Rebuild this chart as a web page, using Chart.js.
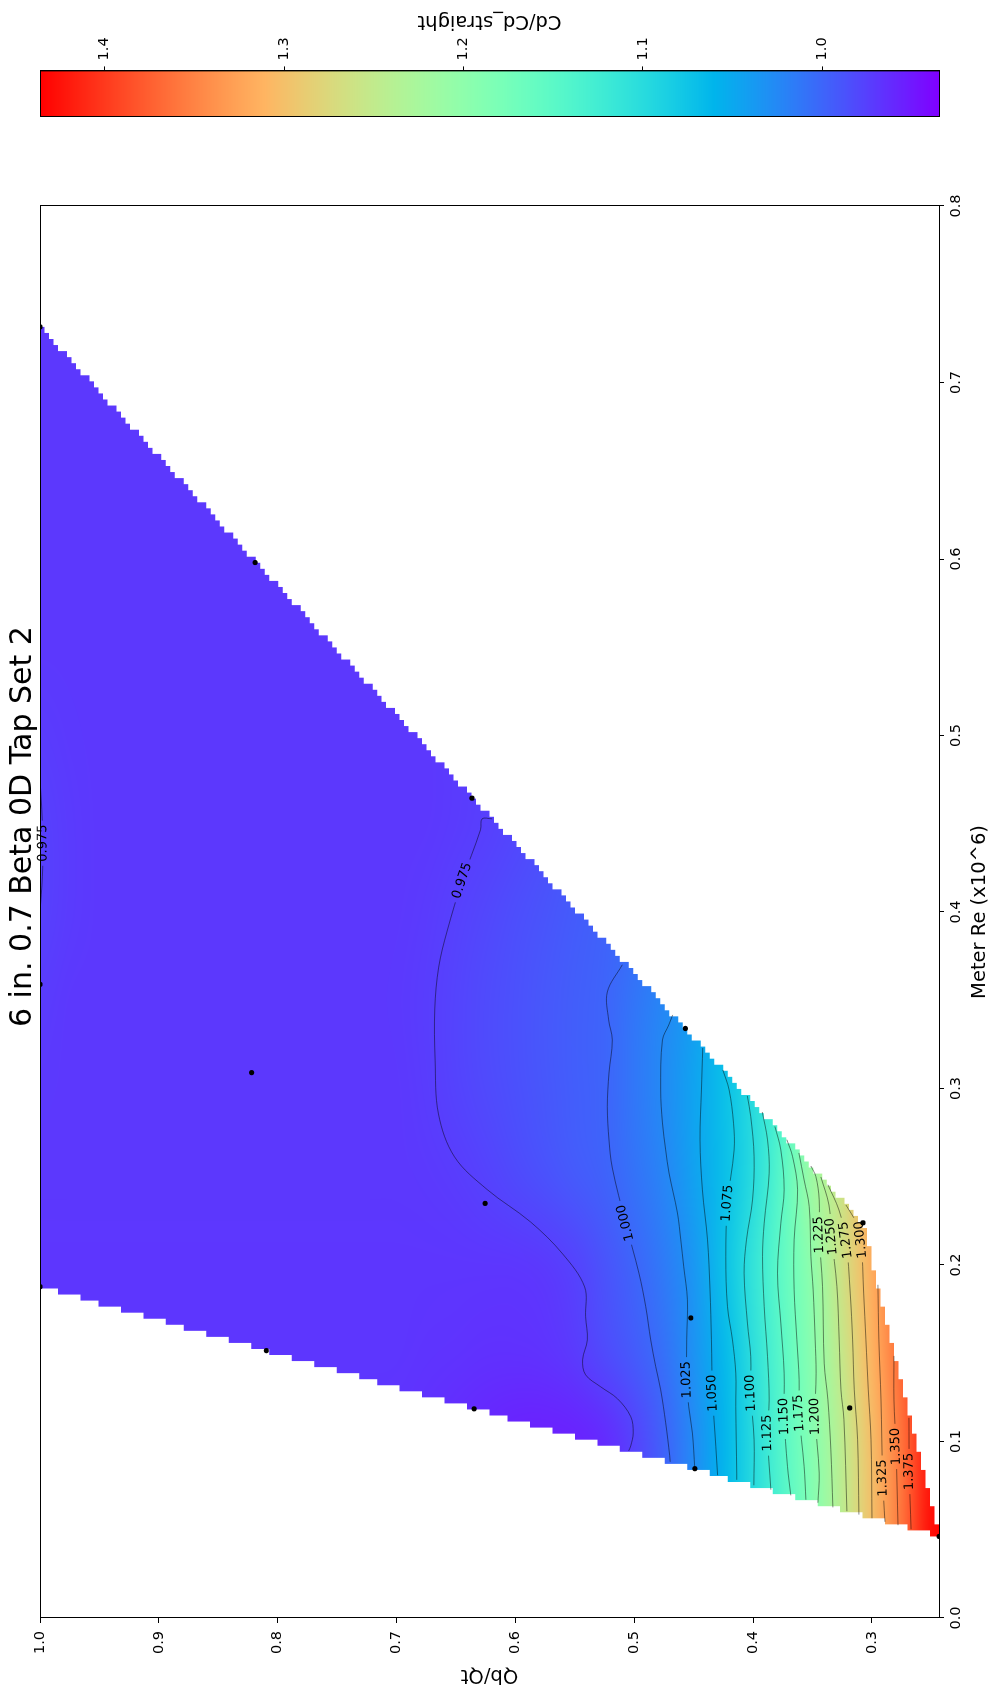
<!DOCTYPE html>
<html>
<head>
<meta charset="utf-8">
<script src="https://cdn.jsdelivr.net/npm/chart.js@4.4.1/dist/chart.umd.min.js"></script>
<style>
  html, body { margin: 0; padding: 0; background: #fff; }
  body { width: 996px; height: 1695px; overflow: hidden; position: relative; }
  /* the figure is laid out landscape and turned a quarter turn, as in the picture */
  #turn { position: absolute; left: 0; top: 0; width: 1695px; height: 996px;
          transform-origin: 0 0; transform: translateY(1695px) rotate(-90deg); }
  #plot { position: absolute; left: 0; top: 0; }
  #cbar { position: absolute; left: 1540px; top: 0; }
</style>
</head>
<body>
<div id="turn">
  <canvas id="plot" width="1695" height="996"></canvas>
  <canvas id="cbar" width="155" height="996"></canvas>
</div>
<script>
// measured points (Meter Re x10^6, Qb/Qt)
const pointRe = [0.7315, 0.598, 0.4645, 0.334, 0.2239, 0.359, 0.309, 0.2349, 0.170, 0.119, 0.1877, 0.1515, 0.1185, 0.0846, 0.0462];
const pointQb = [1.0, 0.819, 0.6365, 0.457, 0.3075, 1.0, 0.822, 0.6255, 0.4524, 0.3187, 1.0, 0.8096, 0.6347, 0.449, 0.2435];

// Cd/Cd_straight surface: one row per Re, one column per Qb/Qt
const gridRe = [0.05, 0.10, 0.15, 0.20, 0.25, 0.30, 0.35, 0.40, 0.45, 0.50, 0.55, 0.60, 0.65, 0.70, 0.75];
const gridQb = [0.25, 0.275, 0.30, 0.325, 0.35, 0.375, 0.40, 0.425, 0.45, 0.475, 0.50, 0.525, 0.55, 0.575, 0.60, 0.625,
                0.65, 0.675, 0.70, 0.725, 0.75, 0.775, 0.80, 0.825, 0.85, 0.875, 0.90, 0.925, 0.95, 0.975, 1.0];
const cdRe005 = [1.43, 1.36, 1.30, 1.245, 1.19, 1.14, 1.10, 1.062, 1.03, 1.0, 0.98, 0.965, 0.96, 0.96, 0.96, 0.962,
                 0.964, 0.966, 0.968, 0.969, 0.969, 0.969, 0.969, 0.969, 0.969, 0.969, 0.969, 0.969, 0.969, 0.969, 0.969];
const cdRe010 = [1.425, 1.361, 1.302, 1.246, 1.192, 1.146, 1.098, 1.059, 1.026, 0.997, 0.976, 0.961, 0.956, 0.955, 0.956, 0.959,
                 0.962, 0.965, 0.967, 0.968, 0.969, 0.969, 0.969, 0.969, 0.969, 0.969, 0.969, 0.969, 0.969, 0.969, 0.969];
const cdRe015 = [1.43, 1.37, 1.311, 1.2545, 1.196, 1.150, 1.104, 1.063, 1.032, 1.0075, 0.993, 0.9825, 0.972, 0.967, 0.966, 0.966,
                 0.967, 0.968, 0.969, 0.969, 0.969, 0.969, 0.969, 0.969, 0.969, 0.969, 0.969, 0.969, 0.969, 0.969, 0.969];
const cdRe020 = [1.42, 1.37, 1.317, 1.264, 1.201, 1.157, 1.1115, 1.071, 1.035, 1.0145, 0.999, 0.988, 0.977, 0.971, 0.969, 0.969,
                 0.969, 0.969, 0.969, 0.969, 0.969, 0.969, 0.969, 0.969, 0.969, 0.969, 0.969, 0.969, 0.969, 0.969, 0.969];
const cdRe025 = [1.41, 1.37, 1.32, 1.26, 1.218, 1.1495, 1.0995, 1.0685, 1.0436, 1.0223, 1.0089, 0.9982, 0.9929, 0.9875, 0.9822, 0.9768,
                 0.973, 0.971, 0.970, 0.970, 0.970, 0.970, 0.970, 0.970, 0.970, 0.970, 0.970, 0.970, 0.970, 0.970, 0.970];
const cdRe030 = [1.39, 1.34, 1.29, 1.24, 1.19, 1.14, 1.10, 1.0697, 1.0452, 1.027, 1.0124, 0.9994, 0.995, 0.9906, 0.9862, 0.9818,
                 0.9774, 0.973, 0.970, 0.970, 0.970, 0.970, 0.970, 0.970, 0.970, 0.970, 0.970, 0.970, 0.970, 0.970, 0.971];
const cdRe035 = [1.37, 1.32, 1.27, 1.22, 1.17, 1.13, 1.095, 1.065, 1.04, 1.024, 1.011, 0.9995, 0.9952, 0.9909, 0.9866, 0.9823,
                 0.978, 0.9737, 0.971, 0.970, 0.970, 0.970, 0.970, 0.970, 0.970, 0.970, 0.970, 0.970, 0.970, 0.970, 0.973];
const cdRe040 = [1.35, 1.30, 1.25, 1.20, 1.15, 1.11, 1.08, 1.05, 1.03, 1.012, 1.003, 0.997, 0.993, 0.9887, 0.9844, 0.9801,
                 0.9758, 0.972, 0.970, 0.970, 0.970, 0.970, 0.970, 0.970, 0.970, 0.970, 0.970, 0.970, 0.970, 0.972, 0.976];
const cdRe045 = [0.999, 0.999, 0.999, 0.999, 0.999, 0.999, 0.999, 0.999, 0.999, 0.999, 0.999, 0.994, 0.989, 0.984, 0.979, 0.9745,
                 0.972, 0.970, 0.970, 0.970, 0.970, 0.970, 0.970, 0.970, 0.970, 0.970, 0.970, 0.970, 0.970, 0.972, 0.976];
const cdRe050 = [0.98, 0.98, 0.98, 0.98, 0.98, 0.98, 0.98, 0.98, 0.98, 0.98, 0.98, 0.98, 0.98, 0.98, 0.978, 0.975,
                 0.972, 0.970, 0.970, 0.970, 0.970, 0.970, 0.970, 0.970, 0.970, 0.970, 0.970, 0.970, 0.970, 0.971, 0.973];
const cdRe055 = [0.970, 0.970, 0.970, 0.970, 0.970, 0.970, 0.970, 0.970, 0.970, 0.970, 0.970, 0.970, 0.970, 0.970, 0.970, 0.970,
                 0.970, 0.970, 0.970, 0.970, 0.970, 0.970, 0.970, 0.970, 0.970, 0.970, 0.970, 0.970, 0.970, 0.970, 0.970];
const cdRe060 = [0.970, 0.970, 0.970, 0.970, 0.970, 0.970, 0.970, 0.970, 0.970, 0.970, 0.970, 0.970, 0.970, 0.970, 0.970, 0.970,
                 0.970, 0.970, 0.970, 0.970, 0.970, 0.970, 0.970, 0.970, 0.970, 0.970, 0.970, 0.970, 0.970, 0.970, 0.970];
const cdRe065 = [0.970, 0.970, 0.970, 0.970, 0.970, 0.970, 0.970, 0.970, 0.970, 0.970, 0.970, 0.970, 0.970, 0.970, 0.970, 0.970,
                 0.970, 0.970, 0.970, 0.970, 0.970, 0.970, 0.970, 0.970, 0.970, 0.970, 0.970, 0.970, 0.970, 0.970, 0.970];
const cdRe070 = [0.970, 0.970, 0.970, 0.970, 0.970, 0.970, 0.970, 0.970, 0.970, 0.970, 0.970, 0.970, 0.970, 0.970, 0.970, 0.970,
                 0.970, 0.970, 0.970, 0.970, 0.970, 0.970, 0.970, 0.970, 0.970, 0.970, 0.970, 0.970, 0.970, 0.970, 0.970];
const cdRe075 = [0.970, 0.970, 0.970, 0.970, 0.970, 0.970, 0.970, 0.970, 0.970, 0.970, 0.970, 0.970, 0.970, 0.970, 0.970, 0.970,
                 0.970, 0.970, 0.970, 0.970, 0.970, 0.970, 0.970, 0.970, 0.970, 0.970, 0.970, 0.970, 0.970, 0.970, 0.970];

// contour lines, [Re, Qb/Qt] vertices
const c0975a = [[0.4528, 0.6195], [0.4528, 0.628], [0.4466, 0.6293], [0.4177, 0.6447], [0.3892, 0.6574], [0.3688, 0.6645],
                [0.3451, 0.6678], [0.3161, 0.6675], [0.2856, 0.6647], [0.2613, 0.6512], [0.2428, 0.6238], [0.2244, 0.5872],
                [0.2063, 0.5602], [0.1876, 0.5417], [0.1708, 0.5409], [0.1576, 0.5394], [0.1463, 0.5434], [0.1378, 0.5409],
                [0.131, 0.5282], [0.1242, 0.514], [0.1141, 0.5029], [0.1049, 0.5008], [0.0975, 0.5029], [0.0947, 0.5046]];
const c0975b = [[0.475, 1.0], [0.458, 0.9985], [0.439, 0.9975], [0.42, 0.998], [0.40, 1.0]];
const c1000 = [[0.3701, 0.51], [0.3547, 0.5226], [0.3389, 0.5215], [0.3275, 0.5184], [0.3088, 0.5212], [0.2897, 0.5226],
               [0.2709, 0.5212], [0.255, 0.5184], [0.2239, 0.5072], [0.1954, 0.496], [0.1765, 0.4903], [0.1576, 0.4861],
               [0.1425, 0.4819], [0.1293, 0.4777], [0.1106, 0.4735], [0.0919, 0.4701], [0.0885, 0.4697]];
const c1025 = [[0.3417, 0.4676], [0.336, 0.4709], [0.3275, 0.4762], [0.2992, 0.4777], [0.2805, 0.4762], [0.2652, 0.4735],
               [0.2522, 0.4707], [0.2295, 0.4636], [0.2143, 0.4608], [0.199, 0.4583], [0.1803, 0.4552], [0.1577, 0.4558],
               [0.135, 0.4558], [0.1197, 0.4541], [0.1048, 0.451], [0.0846, 0.449]];
const c1050 = [[0.323, 0.4423], [0.2992, 0.4434], [0.2709, 0.4446], [0.2426, 0.4426], [0.2143, 0.4383], [0.186, 0.4362],
               [0.1577, 0.435], [0.1274, 0.4341], [0.0972, 0.4313], [0.0809, 0.4298]];
const c1075 = [[0.3105, 0.4254], [0.2992, 0.4201], [0.2803, 0.4164], [0.2652, 0.4159], [0.235, 0.4215], [0.2048, 0.4229],
               [0.1765, 0.4215], [0.1576, 0.4173], [0.1387, 0.4145], [0.1198, 0.4145], [0.0821, 0.4137], [0.0783, 0.4137]];
const c1100 = [[0.2958, 0.4048], [0.2841, 0.4019], [0.2614, 0.3991], [0.2369, 0.4004], [0.2143, 0.4055], [0.1954, 0.4075],
               [0.1671, 0.4047], [0.1481, 0.4019], [0.1274, 0.4019], [0.101, 0.3991], [0.0752, 0.3993]];
const c1125 = [[0.2867, 0.3922], [0.2709, 0.3878], [0.252, 0.3864], [0.2237, 0.3906], [0.2048, 0.392], [0.1765, 0.3906],
               [0.1481, 0.3878], [0.1236, 0.3864], [0.1048, 0.3878], [0.0727, 0.385]];
const c1150 = [[0.2785, 0.3816], [0.2652, 0.3766], [0.2426, 0.3738], [0.2237, 0.3766], [0.1954, 0.3794], [0.1671, 0.3766],
               [0.1387, 0.3738], [0.1142, 0.3738], [0.0859, 0.371], [0.0695, 0.3682]];
const c1175 = [[0.271, 0.3715], [0.2614, 0.3667], [0.2426, 0.3625], [0.2143, 0.3654], [0.186, 0.3654], [0.1576, 0.3631],
               [0.135, 0.3612], [0.1161, 0.3612], [0.0859, 0.357], [0.067, 0.3555]];
const c1200 = [[0.2635, 0.3614], [0.2482, 0.357], [0.2331, 0.3527], [0.2048, 0.3513], [0.186, 0.3494], [0.1576, 0.3477],
               [0.1387, 0.3469], [0.1142, 0.3477], [0.0821, 0.3443], [0.0653, 0.3454]];
const c1225 = [[0.2561, 0.3513], [0.2501, 0.3471], [0.2369, 0.3443], [0.2171, 0.3443], [0.1878, 0.3415], [0.1444, 0.3401],
               [0.1237, 0.337], [0.0953, 0.3345], [0.0627, 0.3328]];
const c1250 = [[0.2499, 0.3429], [0.234, 0.3361], [0.2161, 0.3339], [0.1878, 0.3294], [0.1576, 0.3275], [0.1293, 0.326],
               [0.1124, 0.3235], [0.0605, 0.321]];
const c1275 = [[0.2455, 0.337], [0.2312, 0.3277], [0.2142, 0.3218], [0.1841, 0.3182], [0.1576, 0.3162], [0.1293, 0.3148],
               [0.101, 0.312], [0.0586, 0.3109]];
const c1300 = [[0.234, 0.3218], [0.2243, 0.3134], [0.2143, 0.3092], [0.1841, 0.3069], [0.1576, 0.305], [0.1293, 0.303],
               [0.101, 0.3007], [0.0565, 0.2999]];
const c1325 = [[0.1888, 0.2949], [0.1576, 0.2941], [0.1236, 0.2923], [0.0793, 0.2909], [0.0545, 0.289]];
const c1350 = [[0.1485, 0.2814], [0.1236, 0.2814], [0.0972, 0.2797], [0.0526, 0.278]];
const c1375 = [[0.1134, 0.2688], [0.083, 0.2685], [0.0503, 0.267]];

const contourLevels = [0.975, 0.975, 1.000, 1.025, 1.050, 1.075, 1.100, 1.125, 1.150, 1.175, 1.200, 1.225, 1.250, 1.275, 1.300, 1.325, 1.350, 1.375];
const contourLines = [c0975a, c0975b, c1000, c1025, c1050, c1075, c1100, c1125, c1150, c1175, c1200, c1225, c1250, c1275, c1300, c1325, c1350, c1375];
// vertex of each line that carries its inline label
const labelAt = [3, 2, 8, 12, 7, 4, 8, 8, 7, 7, 7, 3, 2, 2, 2, 3, 2, 1];

const reTicks = [0.0, 0.1, 0.2, 0.3, 0.4, 0.5, 0.6, 0.7, 0.8];
const qbTicks = [0.3, 0.4, 0.5, 0.6, 0.7, 0.8, 0.9, 1.0];
const cbarTicks = [1.0, 1.1, 1.2, 1.3, 1.4];
const cbarMin = 0.935;
const cbarMax = 1.436;
const chartTitle = '6 in. 0.7 Beta 0D Tap Set 2';

const cdGrid = [cdRe005, cdRe010, cdRe015, cdRe020, cdRe025, cdRe030, cdRe035, cdRe040, cdRe045, cdRe050,
                cdRe055, cdRe060, cdRe065, cdRe070, cdRe075];

Chart.defaults.font.family = "'DejaVu Sans', sans-serif";
Chart.defaults.color = '#000';

// matplotlib "rainbow"
function rainbow(t) {
  t = Math.min(1, Math.max(0, t));
  const r = Math.min(1, Math.abs(2 * t - 0.5));
  const g = Math.sin(Math.PI * t);
  const b = Math.cos(Math.PI * t / 2);
  return [Math.round(r * 255), Math.round(g * 255), Math.round(b * 255)];
}

function convexHull(pts) {
  const p = pts.slice().sort((a, b) => a[0] - b[0] || a[1] - b[1]);
  const cross = (o, a, b) => (a[0] - o[0]) * (b[1] - o[1]) - (a[1] - o[1]) * (b[0] - o[0]);
  const lower = [], upper = [];
  for (const q of p) {
    while (lower.length >= 2 && cross(lower[lower.length - 2], lower[lower.length - 1], q) <= 0) lower.pop();
    lower.push(q);
  }
  for (let i = p.length - 1; i >= 0; i--) {
    const q = p[i];
    while (upper.length >= 2 && cross(upper[upper.length - 2], upper[upper.length - 1], q) <= 0) upper.pop();
    upper.push(q);
  }
  upper.pop(); lower.pop();
  return lower.concat(upper);
}

function insideHull(h, x, y) {
  for (let i = 0; i < h.length; i++) {
    const a = h[i], b = h[(i + 1) % h.length];
    if ((b[0] - a[0]) * (y - a[1]) - (b[1] - a[1]) * (x - a[0]) < -1e-12) return false;
  }
  return true;
}

// the interpolated surface only exists inside the hull of the points, drawn on a 200x200 mesh
function meshPath(xs, ys) {
  const hull = convexHull(pointRe.map((r, i) => [r, pointQb[i]]));
  const reLo = Math.min(...pointRe), reHi = Math.max(...pointRe);
  const qLo = Math.min(...pointQb), qHi = Math.max(...pointQb);
  const n = 200, dr = (reHi - reLo) / n, dq = (qHi - qLo) / n;
  const path = new Path2D();
  for (let i = 0; i < n; i++) {
    const rc = reLo + (i + 0.5) * dr;
    let jlo = -1, jhi = -1;
    for (let j = 0; j < n; j++) {
      if (insideHull(hull, rc, qLo + (j + 0.5) * dq)) { if (jlo < 0) jlo = j; jhi = j; }
    }
    if (jlo < 0) continue;
    const x0 = xs.getPixelForValue(reLo + i * dr), x1 = xs.getPixelForValue(reLo + (i + 1) * dr);
    const yT = ys.getPixelForValue(qLo + (jhi + 1) * dq), yB = ys.getPixelForValue(qLo + jlo * dq);
    path.rect(x0, yT, x1 - x0, yB - yT);
  }
  return path;
}

function surfaceImage() {
  const cv = document.createElement('canvas');
  cv.width = gridRe.length;
  cv.height = gridQb.length;
  const c = cv.getContext('2d');
  const im = c.createImageData(cv.width, cv.height);
  for (let i = 0; i < gridRe.length; i++) {
    for (let j = 0; j < gridQb.length; j++) {
      const col = rainbow((cdGrid[i][j] - cbarMin) / (cbarMax - cbarMin));
      const k = ((gridQb.length - 1 - j) * cv.width + i) * 4;
      im.data[k] = col[0]; im.data[k + 1] = col[1]; im.data[k + 2] = col[2]; im.data[k + 3] = 255;
    }
  }
  c.putImageData(im, 0, 0);
  return cv;
}

const LABEL_FONT = '13px "DejaVu Sans"';

function labelBoxes(chart) {
  const xs = chart.scales.x, ys = chart.scales.y, ctx = chart.ctx;
  ctx.save();
  ctx.font = LABEL_FONT;
  const out = contourLines.map((line, k) => {
    const i = labelAt[k];
    const a = line[Math.max(0, i - 1)], b = line[Math.min(line.length - 1, i + 1)];
    let ang = Math.atan2(ys.getPixelForValue(b[1]) - ys.getPixelForValue(a[1]),
                         xs.getPixelForValue(b[0]) - xs.getPixelForValue(a[0]));
    if (ang > Math.PI / 2) ang -= Math.PI;
    if (ang <= -Math.PI / 2) ang += Math.PI;
    const text = contourLevels[k].toFixed(3);
    return { x: xs.getPixelForValue(line[i][0]), y: ys.getPixelForValue(line[i][1]), ang, text,
             w: ctx.measureText(text).width };
  });
  ctx.restore();
  return out;
}

const surfacePlugin = {
  id: 'surface',
  beforeDatasetsDraw(chart) {
    const { ctx, scales: { x: xs, y: ys } } = chart;
    const dr = gridRe[1] - gridRe[0], dq = gridQb[1] - gridQb[0];
    const x0 = xs.getPixelForValue(gridRe[0] - dr / 2);
    const x1 = xs.getPixelForValue(gridRe[gridRe.length - 1] + dr / 2);
    const y0 = ys.getPixelForValue(gridQb[gridQb.length - 1] + dq / 2);
    const y1 = ys.getPixelForValue(gridQb[0] - dq / 2);
    ctx.save();
    ctx.clip(meshPath(xs, ys));
    ctx.imageSmoothingEnabled = true;
    ctx.imageSmoothingQuality = 'high';
    ctx.drawImage(surfaceImage(), x0, y0, x1 - x0, y1 - y0);
    ctx.restore();
    chart.$labels = labelBoxes(chart);
  },
  beforeDatasetDraw(chart, args) {
    if (!chart.data.datasets[args.index].isContour) return;
    const ctx = chart.ctx;
    ctx.save();
    const p = new Path2D();
    p.rect(0, 0, chart.width, chart.height);
    for (const L of chart.$labels) {
      const hw = L.w / 2 + 4, hh = 7;
      const c = Math.cos(L.ang), s = Math.sin(L.ang);
      const pts = [[-hw, -hh], [hw, -hh], [hw, hh], [-hw, hh]].map(([u, v]) => [L.x + u * c - v * s, L.y + u * s + v * c]);
      p.moveTo(pts[0][0], pts[0][1]);
      for (let q = 1; q < 4; q++) p.lineTo(pts[q][0], pts[q][1]);
      p.closePath();
    }
    ctx.clip(p, 'evenodd');
  },
  afterDatasetDraw(chart, args) {
    if (!chart.data.datasets[args.index].isContour) return;
    chart.ctx.restore();
  },
  afterDatasetsDraw(chart) {
    const ctx = chart.ctx;
    ctx.save();
    ctx.font = LABEL_FONT;
    ctx.fillStyle = '#000';
    ctx.textAlign = 'center';
    ctx.textBaseline = 'middle';
    for (const L of chart.$labels) {
      ctx.save();
      ctx.translate(L.x, L.y);
      ctx.rotate(L.ang);
      ctx.fillText(L.text, 0, 0);
      ctx.restore();
    }
    ctx.restore();
  },
  afterDraw(chart) {
    const { ctx, chartArea: a } = chart;
    ctx.save();
    ctx.strokeStyle = '#000';
    ctx.lineWidth = 1;
    ctx.strokeRect(Math.round(a.left) + 0.5, Math.round(a.top) + 0.5, Math.round(a.right - a.left), Math.round(a.bottom - a.top));
    // figure title
    ctx.font = '30px "DejaVu Sans"';
    ctx.fillStyle = '#000';
    ctx.textAlign = 'left';
    ctx.textBaseline = 'alphabetic';
    ctx.fillText(chartTitle, 668, a.top - 9);
    ctx.restore();
  }
};

const axisGrid = { drawOnChartArea: false, drawTicks: true, tickLength: 5, color: '#000', lineWidth: 1 };
const tickFont = { size: 14.5 };

const datasets = [{
  label: 'points',
  data: pointRe.map((r, i) => ({ x: r, y: pointQb[i] })),
  pointRadius: 2.6,
  pointBackgroundColor: '#000',
  pointBorderWidth: 0,
  showLine: false
}].concat(contourLines.map((line, k) => ({
  label: contourLevels[k].toFixed(3),
  isContour: true,
  data: line.map(v => ({ x: v[0], y: v[1] })),
  showLine: true,
  pointRadius: 0,
  borderColor: 'rgba(0,0,0,0.55)',
  borderWidth: 0.85,
  tension: 0.35,
  fill: false
})));

new Chart(document.getElementById('plot'), {
  type: 'scatter',
  data: { datasets },
  options: {
    responsive: false,
    animation: false,
    devicePixelRatio: 1,
    events: [],
    layout: { padding: { top: 40, right: 206, bottom: 0, left: 0 } },
    plugins: {
      legend: { display: false },
      tooltip: { enabled: false },
      title: { display: false }
    },
    scales: {
      x: {
        type: 'linear', min: 0, max: 0.8,
        afterBuildTicks: s => { s.ticks = reTicks.map(v => ({ value: v })); },
        afterFit: s => { s.height = 57; },
        ticks: { font: tickFont, maxRotation: 0, autoSkip: false, padding: 4, callback: v => v.toFixed(1) },
        grid: axisGrid,
        border: { display: true, color: '#000', width: 1 },
        title: { display: true, text: 'Meter Re (x10^6)', font: { size: 19.5 }, padding: { top: 0, bottom: 4 } }
      },
      y: {
        type: 'linear', min: 0.2435, max: 1.0,
        afterBuildTicks: s => { s.ticks = qbTicks.map(v => ({ value: v })); },
        afterFit: s => { s.width = 77; },
        ticks: { font: tickFont, autoSkip: false, padding: 8, callback: v => v.toFixed(1) },
        grid: axisGrid,
        border: { display: true, color: '#000', width: 1 },
        title: { display: true, text: 'Qb/Qt', font: { size: 19.5 }, padding: { top: 8.5, bottom: 0 } }
      }
    }
  },
  plugins: [surfacePlugin]
});

const colorbarPlugin = {
  id: 'colorbar',
  beforeDatasetsDraw(chart) {
    const { ctx, chartArea: a, scales: { y: ys } } = chart;
    for (let py = Math.floor(a.top); py < Math.ceil(a.bottom); py++) {
      const c = rainbow((ys.getValueForPixel(py + 0.5) - cbarMin) / (cbarMax - cbarMin));
      ctx.fillStyle = `rgb(${c[0]},${c[1]},${c[2]})`;
      ctx.fillRect(a.left, py, a.right - a.left, 1);
    }
  },
  afterDraw(chart) {
    const { ctx, chartArea: a } = chart;
    ctx.save();
    ctx.strokeStyle = '#000';
    ctx.lineWidth = 1;
    ctx.strokeRect(Math.round(a.left) + 0.5, Math.round(a.top) + 0.5, Math.round(a.right - a.left), Math.round(a.bottom - a.top));
    ctx.font = '19.5px "DejaVu Sans"';
    ctx.fillStyle = '#000';
    ctx.textAlign = 'center';
    ctx.textBaseline = 'middle';
    ctx.translate(133.5, (a.top + a.bottom) / 2);
    ctx.rotate(-Math.PI / 2);
    ctx.fillText('Cd/Cd_straight', 0, 0);
    ctx.restore();
  }
};

new Chart(document.getElementById('cbar'), {
  type: 'scatter',
  data: { datasets: [] },
  options: {
    responsive: false,
    animation: false,
    devicePixelRatio: 1,
    events: [],
    layout: { padding: { top: 40, right: 0, bottom: 57, left: 38 } },
    plugins: { legend: { display: false }, tooltip: { enabled: false } },
    scales: {
      x: { display: false, min: 0, max: 1 },
      y: {
        position: 'right', min: cbarMin, max: cbarMax,
        afterBuildTicks: s => { s.ticks = cbarTicks.map(v => ({ value: v })); },
        afterFit: s => { s.width = 71.4; },
        ticks: { font: tickFont, autoSkip: false, padding: 6, callback: v => v.toFixed(1) },
        grid: axisGrid,
        border: { display: true, color: '#000', width: 1 }
      }
    }
  },
  plugins: [colorbarPlugin]
});
</script>
</body>
</html>
